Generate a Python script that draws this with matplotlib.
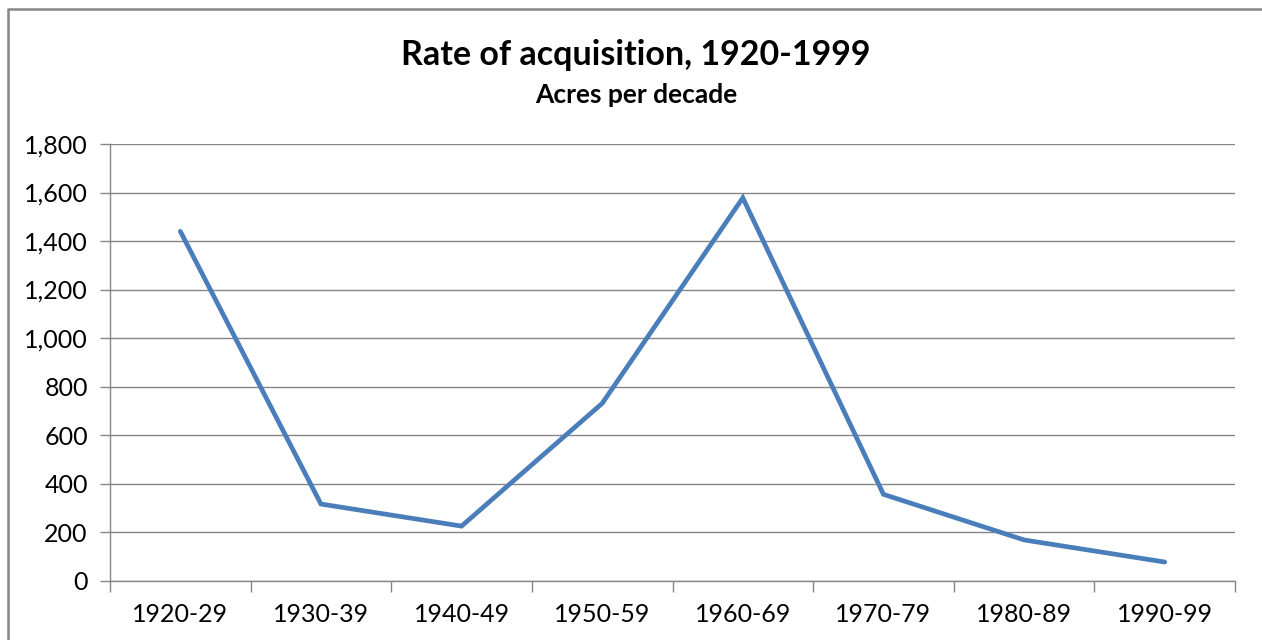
import matplotlib.pyplot as plt
from matplotlib.lines import Line2D
from matplotlib.ticker import FuncFormatter, FixedLocator
import numpy as np

plt.rcParams['font.family'] = ['Lato', 'DejaVu Sans']

decades = ['1920-29', '1930-39', '1940-49', '1950-59',
           '1960-69', '1970-79', '1980-89', '1990-99']
acres = [1440, 316, 225, 731, 1578, 356, 168, 77]

W, H = 1262, 640
fig = plt.figure(figsize=(W / 100, H / 100), dpi=100)

# outer chart frame: only the left and top edges show in the reference
frame_x, frame_y = 8 / W, 1 - 9 / H
fig.add_artist(Line2D([frame_x, frame_x, 1.0], [0.0, frame_y, frame_y],
                      transform=fig.transFigure, color='#868686', linewidth=1.8))

ax = fig.add_axes([110 / W, (H - 580.7) / H, (1235 - 110) / W, (580.7 - 144) / H])

x = np.arange(len(decades))
ax.plot(x, acres, color='#4A7EBB', linewidth=3.4, solid_joinstyle='miter',
        solid_capstyle='round', zorder=3)

ax.set_xlim(-0.5, len(decades) - 0.5)
ax.set_ylim(0, 1800)
ax.set_yticks(np.arange(0, 1801, 200))
ax.yaxis.set_major_formatter(FuncFormatter(lambda v, p: f'{int(v):,}'))
ax.grid(axis='y', color='#868686', linewidth=1.0)
ax.set_axisbelow(True)

ax.set_xticks(x)
ax.set_xticklabels(decades)
ax.xaxis.set_minor_locator(FixedLocator(np.arange(-0.5, len(decades), 1)))
ax.tick_params(axis='x', which='major', length=0, pad=16, labelsize=18)
ax.tick_params(axis='x', which='minor', length=8, color='#868686', width=1)
ax.tick_params(axis='y', length=7, color='#868686', width=1, pad=9, labelsize=18)

for s in ['top', 'right']:
    ax.spines[s].set_visible(False)
for s in ['left', 'bottom']:
    ax.spines[s].set_color('#868686')
    ax.spines[s].set_linewidth(1.0)

fig.text(636 / W, 1 - 55 / H, 'Rate of acquisition, 1920-1999', ha='center',
         va='center', fontsize=24.5, fontweight='bold')
fig.text(636 / W, 1 - 95 / H, 'Acres per decade', ha='center',
         va='center', fontsize=19, fontweight='bold')

fig.savefig('out.png', dpi=100, facecolor='white')
